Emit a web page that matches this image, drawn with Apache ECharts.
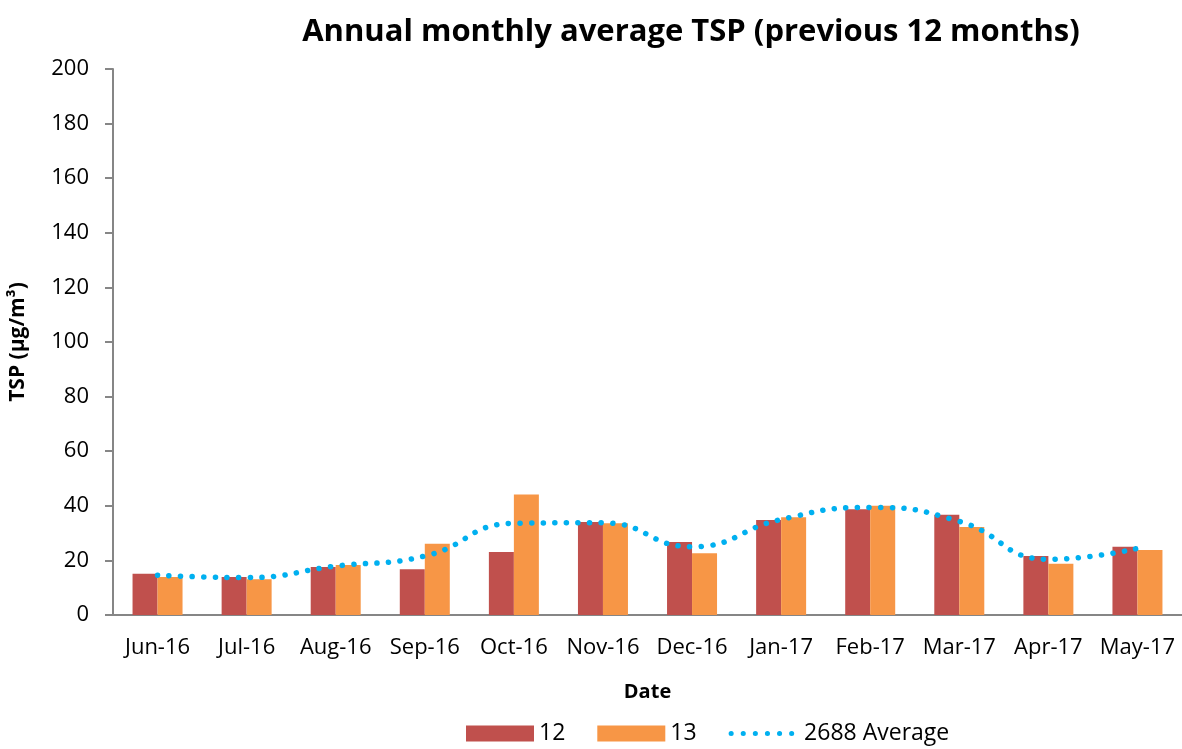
<!DOCTYPE html>
<html>
<head>
<meta charset="utf-8">
<script src="https://cdn.jsdelivr.net/npm/echarts@6/dist/echarts.min.js"></script>
<style>
  html, body { margin: 0; padding: 0; background: #fff; }
  #chart { width: 1182px; height: 749px; }
</style>
</head>
<body>
<div id="chart"></div>
<script>
var months = ['Jun-16', 'Jul-16', 'Aug-16', 'Sep-16', 'Oct-16', 'Nov-16', 'Dec-16', 'Jan-17', 'Feb-17', 'Mar-17', 'Apr-17', 'May-17'];
var site12 = [15.1, 13.9, 17.6, 16.8, 23.1, 34.1, 26.7, 34.8, 38.7, 36.7, 21.6, 25.0];
var site13 = [13.9, 13.1, 18.3, 26.1, 44.1, 33.6, 22.6, 35.8, 40.0, 32.2, 18.8, 23.8];
var avg2688 = [14.6, 13.7, 17.9, 21.6, 33.6, 33.8, 25.0, 35.0, 39.4, 34.3, 20.4, 24.4];

var font = 'Open Sans';

var myChart = echarts.init(document.getElementById('chart'));

var option = {
    animation: false,
    title: {
        text: 'Annual monthly average TSP (previous 12 months)',
        left: 686,
        textAlign: 'center',
        top: 12,
        textStyle: {
            fontFamily: font,
            fontSize: 31,
            fontWeight: 'bold',
            color: '#000'
        }
    },
    legend: {
        bottom: -1,
        left: 461,
        itemGap: 32,
        itemWidth: 68,
        itemHeight: 16,
        textStyle: {
            fontFamily: font,
            fontSize: 23,
            color: '#000'
        },
        data: [
            { name: '12', icon: 'rect' },
            { name: '13', icon: 'rect' },
            {
                name: '2688 Average',
                itemStyle: { opacity: 0 },
                lineStyle: { color: '#00B0F0', width: 5, type: [0.1, 12], cap: 'round' }
            }
        ]
    },
    grid: {
        left: 110,
        right: 0,
        top: 69,
        bottom: 134
    },
    xAxis: {
        type: 'category',
        data: months,
        name: 'Date',
        nameLocation: 'middle',
        nameGap: 67,
        nameTextStyle: {
            fontFamily: font,
            fontSize: 20,
            fontWeight: 'bold',
            color: '#000'
        },
        axisLine: { lineStyle: { color: '#868686', width: 2 } },
        axisTick: { show: false },
        axisLabel: {
            fontFamily: font,
            fontSize: 22,
            color: '#000',
            margin: 22,
            interval: 0
        }
    },
    yAxis: {
        type: 'value',
        min: 0,
        max: 200,
        interval: 20,
        name: 'TSP (µg/m³)',
        nameLocation: 'middle',
        nameGap: 84,
        nameRotate: 90,
        nameTextStyle: {
            fontFamily: font,
            fontSize: 21,
            fontWeight: 'bold',
            color: '#000'
        },
        splitLine: { show: false },
        axisLine: { show: true, lineStyle: { color: '#868686', width: 2 } },
        axisTick: { show: true, length: 8, lineStyle: { color: '#868686', width: 2 } },
        axisLabel: {
            fontFamily: font,
            fontSize: 22,
            color: '#000',
            margin: 24
        }
    },
    series: [
        {
            name: '12',
            type: 'bar',
            data: site12,
            barWidth: 25,
            barGap: '0%',
            itemStyle: { color: '#C0504D' }
        },
        {
            name: '13',
            type: 'bar',
            data: site13,
            barWidth: 25,
            itemStyle: { color: '#F79646' }
        },
        {
            name: '2688 Average',
            type: 'line',
            data: avg2688,
            smooth: 0.5,
            symbol: 'none',
            lineStyle: {
                color: '#00B0F0',
                width: 5.5,
                type: [0.1, 11.5],
                cap: 'round'
            },
            itemStyle: { color: '#00B0F0' }
        }
    ]
};

myChart.setOption(option);
</script>
</body>
</html>
